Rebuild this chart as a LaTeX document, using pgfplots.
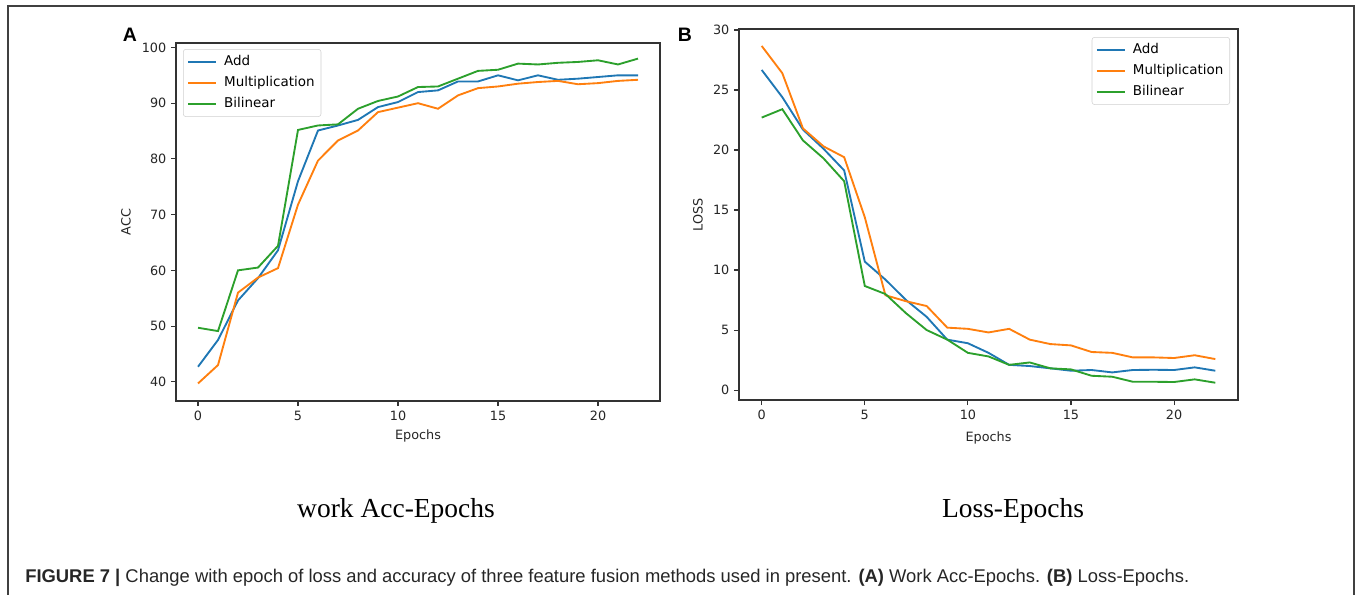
\documentclass[border=0pt]{standalone}
\usepackage{fontspec}
\usepackage{pgfplots}
\pgfplotsset{compat=1.18}
\setmainfont{DejaVu Sans}
\newfontfamily\capfont{Liberation Sans}
\newfontfamily\serfont{Liberation Serif}
\definecolor{mplblue}{HTML}{1F77B4}
\definecolor{mplorange}{HTML}{FF7F0E}
\definecolor{mplgreen}{HTML}{2CA02C}
\newcommand{\tf}{\fontsize{9.6pt}{11pt}\selectfont}
\newcommand{\lf}{\fontsize{10.1pt}{12pt}\selectfont}

\pgfplotstableread{
e add mul bil
0 42.7 39.7 49.7
1 47.5 43.0 49.1
2 54.6 56.0 60.0
3 58.6 58.7 60.5
4 63.6 60.4 64.4
5 76.0 71.8 85.2
6 85.1 79.7 86.0
7 86.0 83.3 86.2
8 87.0 85.1 89.0
9 89.3 88.4 90.4
10 90.2 89.2 91.2
11 92.0 90.0 92.9
12 92.3 89.0 93.0
13 93.9 91.4 94.4
14 93.9 92.7 95.8
15 95.0 93.0 96.0
16 94.1 93.5 97.1
17 95.0 93.8 96.95
18 94.2 94.0 97.25
19 94.4 93.4 97.4
20 94.7 93.6 97.7
21 95.0 94.0 96.95
22 95.0 94.2 98.0
}\acctable

\pgfplotstableread{
e add mul bil
0 26.67 28.67 22.7
1 24.4 26.4 23.4
2 21.7 21.8 20.8
3 20.1 20.3 19.3
4 18.3 19.4 17.4
5 10.7 14.4 8.67
6 9.2 7.9 8.0
7 7.5 7.4 6.4
8 6.1 7.0 5.0
9 4.2 5.2 4.2
10 3.9 5.1 3.1
11 3.1 4.8 2.8
12 2.1 5.1 2.1
13 2.0 4.2 2.3
14 1.81 3.83 1.81
15 1.61 3.72 1.72
16 1.67 3.17 1.19
17 1.47 3.1 1.11
18 1.67 2.72 0.69
19 1.69 2.72 0.69
20 1.67 2.67 0.67
21 1.89 2.9 0.89
22 1.61 2.58 0.61
}\losstable

\pgfplotsset{
  mplstyle/.style={
    scale only axis,
    tick pos=left,
    tick align=outside,
    major tick length=3.75pt,
    axis line style={draw=black!80, line width=0.9pt},
    tick style={draw=black!80, line width=0.8pt},
    /pgf/number format/assume math mode=true,
    ticklabel style={font=\tf, text=black!85},
    label style={font=\tf, text=black!85},
    xmin=-1.1, xmax=23.1,
    xtick={0,5,10,15,20},
    every axis plot/.append style={line width=1.4pt, mark=none},
    legend cell align=left,
    legend image code/.code={\draw[##1, line width=1.4pt] (0pt,0pt) -- (21pt,0pt);},
    legend style={draw=black!18, rounded corners=2pt, fill=white, font=\lf,
      inner xsep=3pt, inner ysep=2.5pt, row sep=1.6pt, column sep=3.5pt,
      nodes={inner sep=1.8pt, text height=8pt, text depth=2.5pt}},
  }
}

\begin{document}
\begin{tikzpicture}
\useasboundingbox (0pt,0pt) rectangle (1018.5pt,-445.5pt);
\draw[line width=1.1pt, black!75] (6pt,-446pt) -- (6pt,-4.5pt) -- (1015.5pt,-4.5pt) -- (1015.5pt,-446pt);

\begin{axis}[mplstyle,
  at={(132pt,-300.75pt)}, anchor=south west,
  width=363pt, height=268.5pt,
  ymin=36.55, ymax=100.8,
  ytick={40,50,60,70,80,90,100},
  xlabel={Epochs}, ylabel={ACC},
  xlabel style={at={(axis description cs:0.5,-0.0978)}, anchor=center},
  ylabel style={at={(axis description cs:-0.1033,0.5)}, anchor=center},
  legend style={at={(axis description cs:0,1)}, anchor=north west, xshift=5.25pt, yshift=-4.5pt},
]
\addplot[mplblue] table[x=e, y=add] {\acctable};
\addplot[mplorange] table[x=e, y=mul] {\acctable};
\addplot[mplgreen] table[x=e, y=bil] {\acctable};
\legend{Add, Multiplication, Bilinear}
\end{axis}

\begin{axis}[mplstyle,
  at={(554.25pt,-300pt)}, anchor=south west,
  width=374.25pt, height=278.25pt,
  ymin=-0.83, ymax=30.08,
  ytick={0,5,10,15,20,25,30},
  xlabel={Epochs}, ylabel={LOSS},
  xlabel style={at={(axis description cs:0.5,-0.101)}, anchor=center},
  ylabel style={at={(axis description cs:-0.0822,0.5)}, anchor=center},
  legend style={at={(axis description cs:1,1)}, anchor=north east, xshift=-6pt, yshift=-6pt},
]
\addplot[mplblue] table[x=e, y=add] {\losstable};
\addplot[mplorange] table[x=e, y=mul] {\losstable};
\addplot[mplgreen] table[x=e, y=bil] {\losstable};
\legend{Add, Multiplication, Bilinear}
\end{axis}

\node[font=\capfont\bfseries\fontsize{14.6pt}{16pt}\selectfont, anchor=center] at (97.5pt,-26.25pt) {A};
\node[font=\capfont\bfseries\fontsize{14.6pt}{16pt}\selectfont, anchor=center] at (513.75pt,-26.25pt) {B};

\node[font=\serfont\fontsize{20.6pt}{24pt}\selectfont, anchor=base] at (297pt,-387.75pt) {work Acc-Epochs};
\node[font=\serfont\fontsize{20.6pt}{24pt}\selectfont, anchor=base] at (759.75pt,-387.75pt) {Loss-Epochs};

\node[font=\capfont\fontsize{13.8pt}{16pt}\selectfont, anchor=base west, inner sep=0pt, text=black!85] at (18.75pt,-436.5pt)
  {\textbf{FIGURE 7 |} Change with epoch of loss and accuracy of three feature fusion methods used in present. \textbf{(A)} Work Acc-Epochs. \textbf{(B)} Loss-Epochs.};
\end{tikzpicture}
\end{document}
